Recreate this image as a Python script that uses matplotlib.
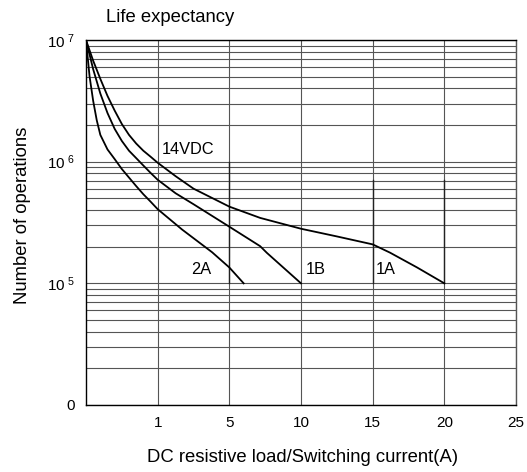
import matplotlib.pyplot as plt
import numpy as np
from matplotlib.ticker import LogLocator, FixedLocator, NullFormatter

plt.rcParams['font.family'] = ['Liberation Sans', 'DejaVu Sans']
plt.rcParams['mathtext.default'] = 'regular'

# x axis is drawn in equal sections: 0-1, 1-5, 5-10, ... 20-25
x_breaks = [0, 1, 5, 10, 15, 20, 25]
x_ticks = [1, 5, 10, 15, 20, 25]
y_ticks = [1e4, 1e5, 1e6, 1e7]
y_ticklabels = ['0', '10$^{\\ 5}$', '10$^{\\ 6}$', '10$^{\\ 7}$']

# curves (current A, operations)
x_1a = [0, 0.1, 0.2, 0.3, 0.4, 0.5, 0.6, 0.7, 0.8, 0.9, 1.0, 2, 3, 5, 7.15, 10,
        12.5, 15, 16.2, 18.1, 20]
y_1a = [1e7, 6.76e6, 4.79e6, 3.47e6, 2.63e6, 2.04e6, 1.66e6, 1.41e6, 1.23e6, 1.10e6,
        9.8e5, 7.6e5, 6.0e5, 4.27e5, 3.45e5, 2.81e5, 2.43e5, 2.09e5, 1.79e5, 1.35e5, 1e5]

x_1b = [0, 0.1, 0.2, 0.3, 0.4, 0.5, 0.6, 0.7, 0.8, 0.9, 1.0, 2, 3, 5, 7.15, 7.62, 10]
y_1b = [1e7, 5.75e6, 3.63e6, 2.51e6, 1.86e6, 1.48e6, 1.23e6, 1.07e6, 9.3e5, 8.1e5,
        7.1e5, 5.5e5, 4.47e5, 2.92e5, 2.02e5, 1.78e5, 1e5]

x_2a = [0, 0.05, 0.1, 0.15, 0.2, 0.3, 0.4, 0.5, 0.6, 0.7, 0.8, 0.9, 1.0, 2.36, 4.04, 5, 6]
y_2a = [1e7, 5.01e6, 3.16e6, 2.19e6, 1.66e6, 1.26e6, 1.05e6, 8.7e5, 7.4e5, 6.3e5,
        5.4e5, 4.7e5, 4.07e5, 2.77e5, 1.8e5, 1.35e5, 1e5]

# darker vertical segments
seg_x = [5, 15, 20]
seg_top = [1e6, 7.1e5, 7.1e5]


def fwd(x):
    return np.interp(x, x_breaks, np.arange(len(x_breaks)))


def inv(p):
    return np.interp(p, np.arange(len(x_breaks)), x_breaks)


fig = plt.figure(figsize=(5.27, 4.72), dpi=100)
ax = fig.add_axes([86 / 527, 67 / 472, 430 / 527, 365 / 472])
ax.set_xscale('function', functions=(fwd, inv))
ax.set_yscale('log')
ax.set_xlim(0, 25)
ax.set_ylim(1e4, 1e7)

ax.xaxis.set_major_locator(FixedLocator(x_ticks))
ax.xaxis.set_minor_locator(FixedLocator([]))
ax.yaxis.set_major_locator(FixedLocator(y_ticks))
ax.yaxis.set_minor_locator(LogLocator(base=10, subs=range(2, 10)))
ax.yaxis.set_minor_formatter(NullFormatter())
ax.set_yticklabels(y_ticklabels)
ax.tick_params(which='both', length=0, labelsize=11, pad=8)

ax.grid(which='both', axis='y', color='#555555', lw=0.8)
ax.grid(which='major', axis='x', color='#555555', lw=0.8)
ax.set_axisbelow(True)

for xs, top in zip(seg_x, seg_top):
    ax.plot([xs, xs], [1e5, top], color='#222222', lw=1.0)

for xs, ys in [(x_1a, y_1a), (x_1b, y_1b), (x_2a, y_2a)]:
    ax.plot(xs, ys, color='black', lw=1.3, solid_joinstyle='round')

ax.text(1.24, 1.26e6, '14VDC', fontsize=11.8, va='center', ha='left')
ax.text(2.86, 1.3e5, '2A', fontsize=11.8, va='center', ha='left')
ax.text(10.3, 1.3e5, '1B', fontsize=11.8, va='center', ha='left')
ax.text(15.25, 1.3e5, '1A', fontsize=11.8, va='center', ha='left')

for side in ['left', 'bottom', 'top']:
    ax.spines[side].set_color('black')
    ax.spines[side].set_linewidth(1.0)
ax.spines['right'].set_color('#555555')
ax.spines['right'].set_linewidth(1.0)

fig.text(170 / 527, 1 - 17 / 472, 'Life expectancy', fontsize=13.3, ha='center', va='center')
fig.text(23 / 527, 1 - 215 / 472, 'Number of operations', fontsize=13.3,
         rotation=90, ha='center', va='center')
fig.text(303 / 527, 1 - 457 / 472, 'DC resistive load/Switching current(A)',
         fontsize=13.3, ha='center', va='center')

fig.savefig('out.png', dpi=100)
